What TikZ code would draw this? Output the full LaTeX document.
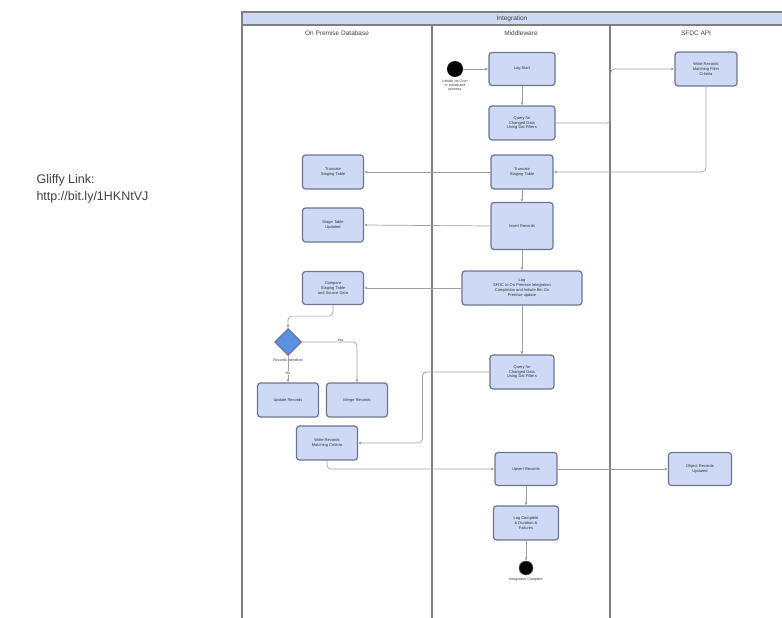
\documentclass[tikz,border=0pt]{standalone}
\usepackage{fontspec}
\setmainfont{Liberation Sans}
\usetikzlibrary{arrows.meta,shapes.geometric,positioning}
\definecolor{boxfill}{HTML}{CDD9F5}
\definecolor{boxdraw}{HTML}{6A7590}
\definecolor{linec}{HTML}{A0A0A0}
\definecolor{lanec}{HTML}{808080}
\definecolor{diafill}{HTML}{5B8FE0}
\begin{document}
\begin{tikzpicture}[x=1pt,y=-1pt,
  act/.style={draw=boxdraw, line width=1.2pt, fill=boxfill, rounded corners=3pt, align=center,
    font=\fontsize{4}{4.8}\selectfont, inner sep=1pt, text=black!80},
  flow/.style={draw=linec, line width=0.7pt, -{Latex[length=3pt,width=3pt]}, rounded corners=4pt},
  small/.style={font=\fontsize{3.6}{4.3}\selectfont, align=center, inner sep=0.5pt, text=black!80},
  lanelabel/.style={font=\fontsize{6.5}{7.5}\selectfont, text=black!75},
  lane/.style={draw=lanec, line width=1.1pt}]
\useasboundingbox (0,0) rectangle (782,618);
\fill[white] (0,0) rectangle (782,618);

% Gliffy link text
\node[anchor=west, font=\fontsize{12.5}{17}\selectfont, align=left, text=black!75] (gliffy) at (33,189)
  {Gliffy Link:\\http://bit.ly/1HKNtVJ};

% pool
\fill[boxfill] (242,12) rectangle (782,25);
\draw[lane] (242,618) -- (242,12) -- (782,12);
\draw[lane] (242,25) -- (782,25);
\draw[lane] (432,25) -- (432,618);
\draw[lane] (610,25) -- (610,618);
\node[lanelabel] (pooltitle) at (512,18.5) {Integration};
\node[lanelabel] (l1) at (337,33) {On Premise Database};
\node[lanelabel] (l2) at (521,33) {Middleware};
\node[lanelabel] (l3) at (696,33) {SFDC API};

% middleware
\node[circle, fill=black, minimum size=16pt, inner sep=0pt] (start) at (455,69) {};
\node[small, below=1.5pt of start] (startlbl) {Initiate via Cron\\or scheduled\\process};
\node[act, minimum width=66pt, minimum height=33pt] (logstart) at (522,69) {Log Start};
\node[act, minimum width=66pt, minimum height=34pt] (query1) at (522,123) {Query for\\Changed Data\\Using Dat Filters};
\node[act, minimum width=62pt, minimum height=34pt] (truncM) at (522,172) {Truncate\\Staging Table};
\node[act, minimum width=62pt, minimum height=47pt] (insert) at (522,226) {Insert Records};
\node[act, minimum width=120pt, minimum height=34pt] (logsfdc) at (522,288)
  {Log\\SFDC to On Premise Integration\\Completion and Initiate Bin On\\Premise update};
\node[act, minimum width=64pt, minimum height=34pt] (query2) at (522,372) {Query for\\Changed Data\\Using Dat Filters};
\node[act, minimum width=62pt, minimum height=33pt] (upsert) at (526,469) {Upsert Records};
\node[act, minimum width=65pt, minimum height=34pt] (logc) at (526,523) {Log Complete\\\& Duration \&\\Failures};
\node[circle, fill=black, draw=black!60, line width=0.6pt, minimum size=14pt, inner sep=0pt] (endc) at (526,568) {};
\node[small, below=1.5pt of endc] (endlbl) {Integration Complete};

% SFDC API
\node[act, minimum width=62pt, minimum height=34pt] (write1) at (706,69) {Write Records\\Matching Filter\\Criteria};
\node[act, minimum width=63pt, minimum height=33pt] (object) at (700,469) {Object Records\\Updated};

% On premise
\node[act, minimum width=61pt, minimum height=34pt] (truncL) at (333,172) {Truncate\\Staging Table};
\node[act, minimum width=61pt, minimum height=34pt] (stage) at (333,225) {Stage Table\\Updated};
\node[act, minimum width=61pt, minimum height=33pt] (compare) at (333,288) {Compare\\Staging Table\\and Source Data};
\node[diamond, draw=boxdraw, line width=1pt, fill=diafill, minimum width=27pt, minimum height=27pt, inner sep=0pt] (dec) at (288,342) {};
\node[small] (declbl) at (288,360) {Records Identified};
\node[act, minimum width=61pt, minimum height=34pt] (update) at (288,400) {Update Records};
\node[act, minimum width=61pt, minimum height=34pt] (merge) at (357,400) {Merge Records};
\node[act, minimum width=61pt, minimum height=34pt] (write2) at (327,443) {Write Records\\Matching Criteria};

% connectors
\draw[flow] (start.east) -- (logstart.west);
\draw[flow] (logstart.south) -- (query1.north);
\draw[flow] (query1.east) -- ++(55,0) |- (write1.west);
\draw[flow] (write1.south) |- (truncM.east);
\draw[flow] (truncM.west) -- (truncL.east);
\draw[flow] (truncM.south) -- (insert.north);
\draw[flow] (insert.west) -- (stage.east);
\draw[flow] (insert.south) -- (logsfdc.north);
\draw[flow] (logsfdc.west) -- (compare.east);
\draw[flow] (compare.south) -- ++(0,11) -| (dec.north);
\draw[flow] (dec.east) -| node[small, pos=0.35, above] {Yes} (merge.north);
\draw[flow] (dec.south) -- node[small, pos=0.65, fill=white] {No} (update.north);
\draw[flow] (logsfdc.south) -- (query2.north);
\draw[flow] (query2.west) -- ++(-67,0) |- (write2.east);
\draw[flow] (write2.south) |- (upsert.west);
\draw[flow] (upsert.east) -- (object.west);
\draw[flow] (upsert.south) -- (logc.north);
\draw[flow] (logc.south) -- (endc.north);
\end{tikzpicture}
\end{document}
